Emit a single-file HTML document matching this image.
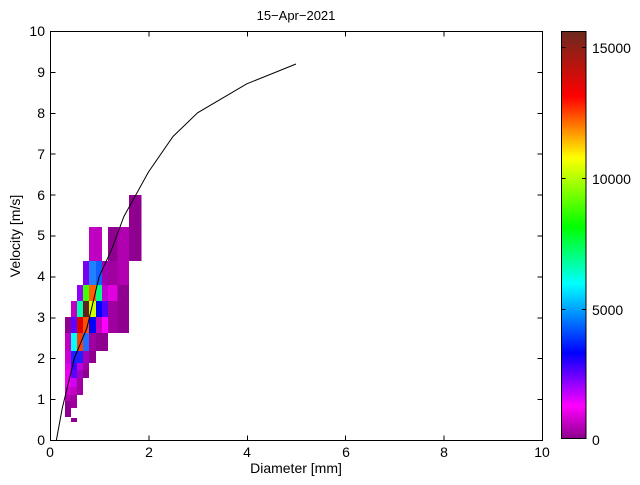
<!DOCTYPE html>
<html><head><meta charset="utf-8"><style>
html,body{margin:0;padding:0;background:#fff;}
svg text{font-family:"Liberation Sans",sans-serif;}
</style></head><body>
<svg width="640" height="480" viewBox="0 0 640 480" xmlns="http://www.w3.org/2000/svg">
<defs>
<linearGradient id="cb" x1="0" y1="0" x2="0" y2="1">
<stop offset="0" stop-color="#6b2a1e"/>
<stop offset="0.16" stop-color="#ff0000"/>
<stop offset="0.31" stop-color="#ffff00"/>
<stop offset="0.48" stop-color="#00ff00"/>
<stop offset="0.62" stop-color="#00ffff"/>
<stop offset="0.79" stop-color="#0000ff"/>
<stop offset="0.92" stop-color="#ff00ff"/>
<stop offset="1" stop-color="#8b008b"/>
</linearGradient>
</defs>
<rect width="640" height="480" fill="#fff"/>
<g shape-rendering="crispEdges">
<!-- R1/R2 tall col J -->
<rect x="129" y="195" width="12.5" height="66" fill="#900090"/>
<!-- R2 -->
<rect x="89" y="227" width="7" height="34" fill="#c000c0"/>
<rect x="96" y="227" width="6" height="34" fill="#c000c0"/>
<rect x="108" y="227" width="9.5" height="34" fill="#900090"/>
<rect x="117.5" y="227" width="11.5" height="34" fill="#b000b0"/>
<!-- R3 -->
<rect x="83" y="261" width="6" height="24" fill="#7a00f0"/>
<rect x="89" y="261" width="7" height="24" fill="#2080ff"/>
<rect x="96" y="261" width="6" height="24" fill="#1060ff"/>
<rect x="102" y="261" width="6" height="24" fill="#a000b0"/>
<rect x="108" y="261" width="9.5" height="24" fill="#a000a0"/>
<rect x="117.5" y="261" width="11.5" height="24" fill="#b000b0"/>
<!-- R4 -->
<rect x="77" y="285" width="6" height="16" fill="#9000ff"/>
<rect x="83" y="285" width="6" height="16" fill="#40ff00"/>
<rect x="89" y="285" width="7" height="16" fill="#ff6000"/>
<rect x="96" y="285" width="6" height="16" fill="#00ff80"/>
<rect x="102" y="285" width="6" height="16" fill="#c000d0"/>
<rect x="108" y="285" width="9.5" height="16" fill="#e000e0"/>
<rect x="117.5" y="285" width="11.5" height="16" fill="#900090"/>
<!-- R5 -->
<rect x="71" y="301" width="6" height="16" fill="#c000c0"/>
<rect x="77" y="301" width="6" height="16" fill="#00ffb0"/>
<rect x="83" y="301" width="6" height="16" fill="#602020"/>
<rect x="89" y="301" width="7" height="16" fill="#d0ff00"/>
<rect x="96" y="301" width="6" height="16" fill="#0000ff"/>
<rect x="102" y="301" width="6" height="16" fill="#5000ff"/>
<rect x="108" y="301" width="9.5" height="16" fill="#a000a0"/>
<rect x="117.5" y="301" width="11.5" height="16" fill="#900090"/>
<!-- R6 -->
<rect x="65" y="317" width="6" height="16" fill="#900090"/>
<rect x="71" y="317" width="6" height="16" fill="#6000ff"/>
<rect x="77" y="317" width="6" height="16" fill="#e00000"/>
<rect x="83" y="317" width="6" height="16" fill="#ff5000"/>
<rect x="89" y="317" width="7" height="16" fill="#0000ff"/>
<rect x="96" y="317" width="6" height="16" fill="#c000c0"/>
<rect x="102" y="317" width="6" height="16" fill="#ff00ff"/>
<rect x="108" y="317" width="9.5" height="16" fill="#a000a0"/>
<rect x="117.5" y="317" width="11.5" height="16" fill="#900090"/>
<!-- R7 -->
<rect x="65" y="333" width="6" height="18" fill="#c000c0"/>
<rect x="71" y="333" width="6" height="18" fill="#00ffff"/>
<rect x="77" y="333" width="6" height="18" fill="#ff4000"/>
<rect x="83" y="333" width="6" height="18" fill="#2070ff"/>
<rect x="89" y="333" width="7" height="18" fill="#a000a0"/>
<rect x="96" y="333" width="6" height="18" fill="#900090"/>
<rect x="102" y="333" width="6" height="18" fill="#900090"/>
<!-- R8 -->
<rect x="65" y="351" width="6" height="12" fill="#d000d0"/>
<rect x="71" y="351" width="6" height="12" fill="#2020ff"/>
<rect x="77" y="351" width="6" height="12" fill="#2020ff"/>
<rect x="83" y="351" width="6" height="12" fill="#a000c0"/>
<rect x="89" y="351" width="7" height="12" fill="#900090"/>
<!-- R9 -->
<rect x="65" y="363" width="6" height="7" fill="#e000e0"/>
<rect x="71" y="363" width="6" height="7" fill="#4000ff"/>
<rect x="77" y="363" width="6" height="7" fill="#c000e0"/>
<rect x="83" y="363" width="6" height="7" fill="#a000a0"/>
<rect x="65" y="370" width="6" height="8" fill="#f000f0"/>
<rect x="71" y="370" width="6" height="8" fill="#6000ff"/>
<rect x="77" y="370" width="6" height="8" fill="#a000c0"/>
<rect x="83" y="370" width="6" height="8" fill="#900090"/>
<rect x="65" y="378" width="6" height="9" fill="#f000f0"/>
<rect x="71" y="378" width="6" height="9" fill="#d000f0"/>
<rect x="77" y="378" width="6" height="9" fill="#a000a0"/>
<rect x="65" y="387" width="6" height="8" fill="#d000d0"/>
<rect x="71" y="387" width="6" height="8" fill="#c000c0"/>
<rect x="77" y="387" width="6" height="8" fill="#a000a0"/>
<rect x="65" y="395" width="6" height="6" fill="#b000b0"/>
<rect x="71" y="395" width="6" height="6" fill="#a000a0"/>
<rect x="65" y="401" width="6" height="7" fill="#900090"/>
<rect x="71" y="401" width="6" height="7" fill="#a000a0"/>
<rect x="65" y="408" width="6" height="5" fill="#900090"/>
<rect x="65" y="413" width="6" height="4" fill="#900090"/>
<rect x="71" y="418" width="6" height="4" fill="#900090"/>
</g>
<!-- curve -->
<polyline fill="none" stroke="#000" stroke-width="1" points="56.4,440 62.3,408 74.6,357.4 86.9,328 99.2,276.4 111.5,249.8 123.8,216.7 148.4,172.1 173,136.5 197.6,112.8 246.8,83.8 296,64"/>
<!-- axes -->
<g stroke="#000" stroke-width="1" fill="none" shape-rendering="crispEdges">
<rect x="50.5" y="31.5" width="492" height="409"/>
<path d="M50.5 440.5v-5M148.9 440.5v-5M247.3 440.5v-5M345.7 440.5v-5M444.1 440.5v-5M542.5 440.5v-5
M148.9 31.5v5M247.3 31.5v5M345.7 31.5v5M444.1 31.5v5
M50.5 399.6h5M50.5 358.7h5M50.5 317.8h5M50.5 276.9h5M50.5 236h5M50.5 195.1h5M50.5 154.2h5M50.5 113.3h5M50.5 72.4h5
M542.5 399.6h-5M542.5 358.7h-5M542.5 317.8h-5M542.5 276.9h-5M542.5 236h-5M542.5 195.1h-5M542.5 154.2h-5M542.5 113.3h-5M542.5 72.4h-5"/>
</g>
<g font-size="14" fill="#000">
<g text-anchor="middle">
<text x="50" y="457">0</text><text x="149" y="457">2</text><text x="247" y="457">4</text><text x="346" y="457">6</text><text x="444" y="457">8</text><text x="542" y="457">10</text>
</g>
<g text-anchor="end">
<text x="45" y="445">0</text><text x="45" y="404">1</text><text x="45" y="363">2</text><text x="45" y="322">3</text><text x="45" y="281">4</text><text x="45" y="240">5</text><text x="45" y="200">6</text><text x="45" y="159">7</text><text x="45" y="118">8</text><text x="45" y="77">9</text><text x="45" y="36">10</text>
</g>
<text x="296" y="473" text-anchor="middle">Diameter [mm]</text>
<text x="20" y="236" text-anchor="middle" transform="rotate(-90 20 236)">Velocity [m/s]</text>
<text x="296" y="20" text-anchor="middle" font-size="13">15−Apr−2021</text>
</g>
<!-- colorbar -->
<rect x="561.5" y="31.5" width="24.5" height="407" fill="url(#cb)" stroke="#000" stroke-width="1"/>
<g stroke="#000" stroke-width="1" shape-rendering="crispEdges">
<path d="M561.5 47.5h4M586 47.5h-4M561.5 178.5h4M586 178.5h-4M561.5 309.5h4M586 309.5h-4"/>
</g>
<g font-size="14" fill="#000">
<text x="592" y="53">15000</text>
<text x="592" y="184">10000</text>
<text x="592" y="315">5000</text>
<text x="592" y="445">0</text>
</g>
</svg>
</body></html>
